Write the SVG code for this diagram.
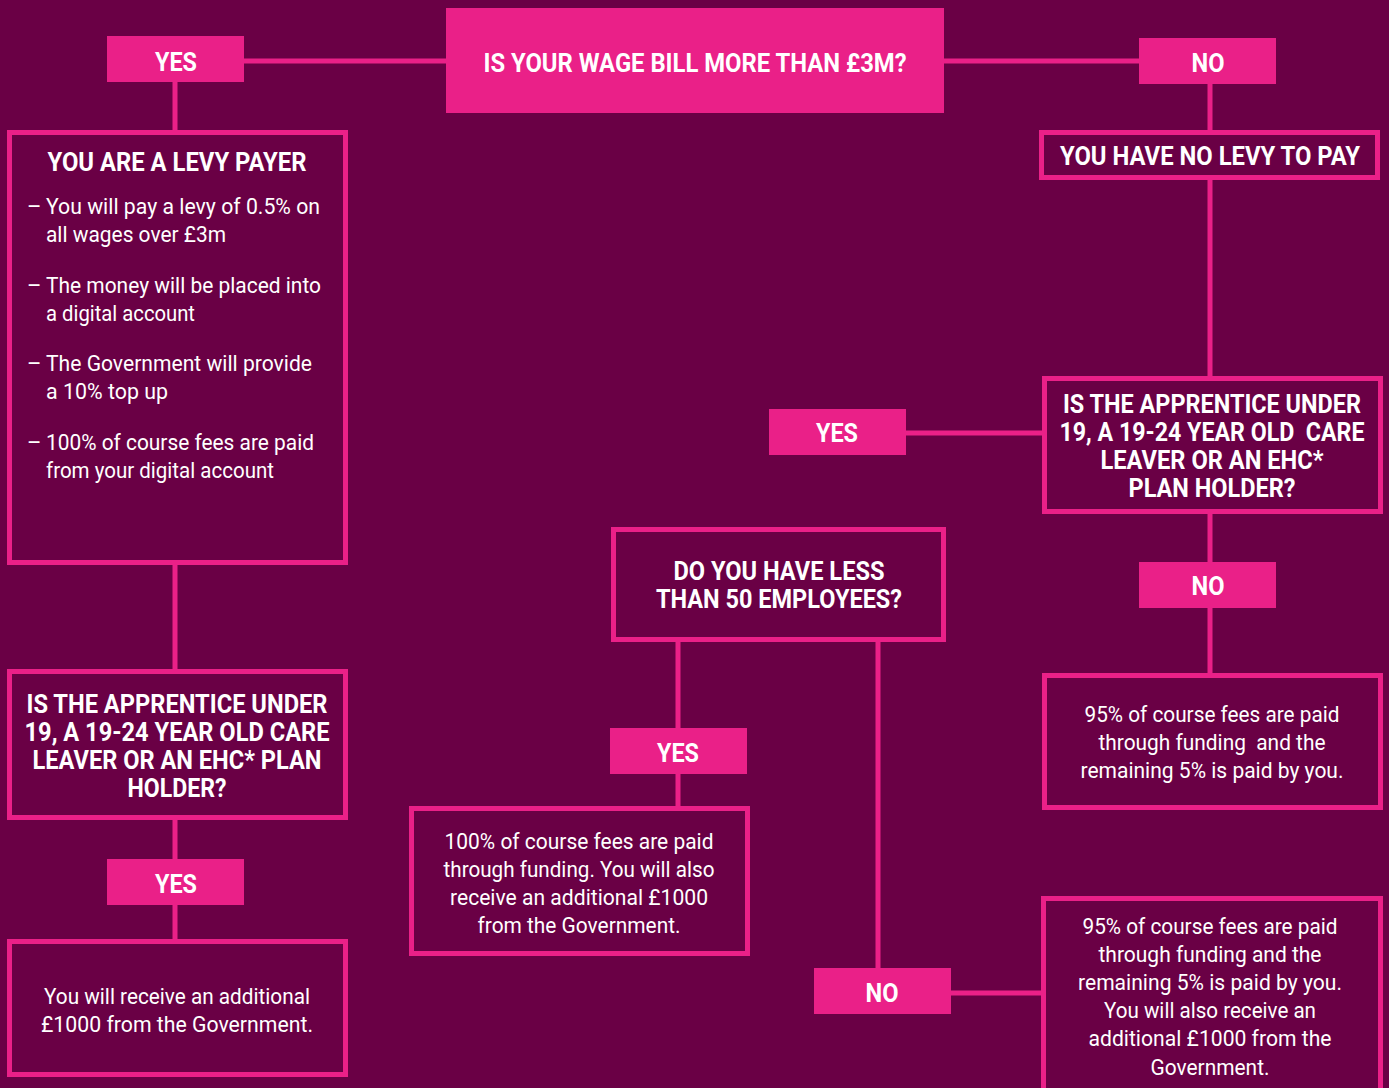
<svg xmlns="http://www.w3.org/2000/svg" width="1389" height="1088" viewBox="0 0 1389 1088">
<style>
.bg{fill:#6a0045}
.lbl{fill:#ea2088}
.box{fill:#6a0045;stroke:#ea2088;stroke-width:5}
.c{stroke:#ea2088;stroke-width:5;fill:none}
.b{font-family:"Liberation Sans Narrow","Roboto","Liberation Sans",sans-serif;font-weight:bold;font-size:26px;fill:#ffffff}
.r{font-family:"Liberation Sans Narrow","Roboto","Liberation Sans",sans-serif;font-size:22px;fill:#ffffff}
.m{text-anchor:middle}
</style>
<rect class="bg" x="0" y="0" width="1389" height="1088"/>
<g id="connectors">
<line class="c" x1="244" y1="61" x2="446" y2="61"/>
<line class="c" x1="944" y1="61" x2="1139" y2="61"/>
<line class="c" x1="175" y1="82" x2="175" y2="130"/>
<line class="c" x1="1210" y1="84" x2="1210" y2="130"/>
<line class="c" x1="1210" y1="180" x2="1210" y2="376"/>
<line class="c" x1="906" y1="433" x2="1042" y2="433"/>
<line class="c" x1="1210" y1="514" x2="1210" y2="562"/>
<line class="c" x1="1210" y1="608" x2="1210" y2="673"/>
<line class="c" x1="175" y1="565" x2="175" y2="669"/>
<line class="c" x1="175" y1="820" x2="175" y2="859"/>
<line class="c" x1="175" y1="905" x2="175" y2="939"/>
<line class="c" x1="678" y1="642" x2="678" y2="728"/>
<line class="c" x1="678" y1="774" x2="678" y2="806"/>
<line class="c" x1="878" y1="642" x2="878" y2="968"/>
<line class="c" x1="951" y1="993" x2="1041" y2="993"/>
</g>
<g id="q-wage">
<rect class="lbl" x="446" y="8" width="498" height="105"/>
<text class="b m" x="695" y="72" textLength="423" lengthAdjust="spacingAndGlyphs">IS YOUR WAGE BILL MORE THAN £3M?</text>
</g>
<g id="yes-top">
<rect class="lbl" x="107" y="36" width="137" height="46"/>
<text class="b m" x="176" y="71" textLength="42" lengthAdjust="spacingAndGlyphs">YES</text>
</g>
<g id="no-top">
<rect class="lbl" x="1139" y="38" width="137" height="46"/>
<text class="b m" x="1208" y="72" textLength="33" lengthAdjust="spacingAndGlyphs">NO</text>
</g>
<g id="levy-payer">
<rect class="box" x="9.5" y="132.5" width="336" height="430"/>
<text class="b m" x="177" y="171" textLength="259" lengthAdjust="spacingAndGlyphs">YOU ARE A LEVY PAYER</text>
<text class="r" x="27" y="214">–</text>
<text class="r" x="46" y="214" textLength="274" lengthAdjust="spacingAndGlyphs">You will pay a levy of 0.5% on</text>
<text class="r" x="46" y="242" textLength="180" lengthAdjust="spacingAndGlyphs">all wages over £3m</text>
<text class="r" x="27" y="293">–</text>
<text class="r" x="46" y="293" textLength="275" lengthAdjust="spacingAndGlyphs">The money will be placed into</text>
<text class="r" x="46" y="321" textLength="149" lengthAdjust="spacingAndGlyphs">a digital account</text>
<text class="r" x="27" y="371">–</text>
<text class="r" x="46" y="371" textLength="266" lengthAdjust="spacingAndGlyphs">The Government will provide</text>
<text class="r" x="46" y="399" textLength="122" lengthAdjust="spacingAndGlyphs">a 10% top up</text>
<text class="r" x="27" y="450">–</text>
<text class="r" x="46" y="450" textLength="268" lengthAdjust="spacingAndGlyphs">100% of course fees are paid</text>
<text class="r" x="46" y="478" textLength="228" lengthAdjust="spacingAndGlyphs">from your digital account</text>
</g>
<g id="no-levy">
<rect class="box" x="1041.5" y="132.5" width="336" height="45"/>
<text class="b m" x="1210" y="165" textLength="300" lengthAdjust="spacingAndGlyphs">YOU HAVE NO LEVY TO PAY</text>
</g>
<g id="q-apprentice-right">
<rect class="box" x="1044.5" y="378.5" width="336" height="133"/>
<text class="b m" x="1212" y="413" textLength="298" lengthAdjust="spacingAndGlyphs">IS THE APPRENTICE UNDER</text>
<text class="b m" x="1212" y="441" textLength="305" lengthAdjust="spacingAndGlyphs" xml:space="preserve">19, A 19-24 YEAR OLD  CARE</text>
<text class="b m" x="1212" y="469" textLength="223" lengthAdjust="spacingAndGlyphs">LEAVER OR AN EHC*</text>
<text class="b m" x="1212" y="497" textLength="167" lengthAdjust="spacingAndGlyphs">PLAN HOLDER?</text>
</g>
<g id="yes-right">
<rect class="lbl" x="769" y="409" width="137" height="46"/>
<text class="b m" x="837" y="442" textLength="42" lengthAdjust="spacingAndGlyphs">YES</text>
</g>
<g id="no-right">
<rect class="lbl" x="1139" y="562" width="137" height="46"/>
<text class="b m" x="1208" y="595" textLength="33" lengthAdjust="spacingAndGlyphs">NO</text>
</g>
<g id="res-95">
<rect class="box" x="1044.5" y="675.5" width="336" height="132"/>
<text class="r m" x="1212" y="722" textLength="255" lengthAdjust="spacingAndGlyphs">95% of course fees are paid</text>
<text class="r m" x="1212" y="750" textLength="227" lengthAdjust="spacingAndGlyphs" xml:space="preserve">through funding  and the</text>
<text class="r m" x="1212" y="778" textLength="263" lengthAdjust="spacingAndGlyphs">remaining 5% is paid by you.</text>
</g>
<g id="q-employees">
<rect class="box" x="613.5" y="529.5" width="330" height="110"/>
<text class="b m" x="779" y="580" textLength="211" lengthAdjust="spacingAndGlyphs">DO YOU HAVE LESS</text>
<text class="b m" x="779" y="608" textLength="246" lengthAdjust="spacingAndGlyphs">THAN 50 EMPLOYEES?</text>
</g>
<g id="yes-mid">
<rect class="lbl" x="610" y="728" width="137" height="46"/>
<text class="b m" x="678" y="762" textLength="42" lengthAdjust="spacingAndGlyphs">YES</text>
</g>
<g id="res-100">
<rect class="box" x="411.5" y="808.5" width="336" height="145"/>
<text class="r m" x="579" y="849" textLength="269" lengthAdjust="spacingAndGlyphs">100% of course fees are paid</text>
<text class="r m" x="579" y="877" textLength="271" lengthAdjust="spacingAndGlyphs">through funding. You will also</text>
<text class="r m" x="579" y="905" textLength="258" lengthAdjust="spacingAndGlyphs">receive an additional £1000</text>
<text class="r m" x="579" y="933" textLength="203" lengthAdjust="spacingAndGlyphs">from the Government.</text>
</g>
<g id="no-mid">
<rect class="lbl" x="814" y="968" width="137" height="46"/>
<text class="b m" x="882" y="1002" textLength="33" lengthAdjust="spacingAndGlyphs">NO</text>
</g>
<g id="res-95-1000">
<rect class="box" x="1043.5" y="898.5" width="337" height="200"/>
<text class="r m" x="1210" y="934" textLength="255" lengthAdjust="spacingAndGlyphs">95% of course fees are paid</text>
<text class="r m" x="1210" y="962" textLength="223" lengthAdjust="spacingAndGlyphs">through funding and the</text>
<text class="r m" x="1210" y="990" textLength="264" lengthAdjust="spacingAndGlyphs">remaining 5% is paid by you.</text>
<text class="r m" x="1210" y="1018" textLength="212" lengthAdjust="spacingAndGlyphs">You will also receive an</text>
<text class="r m" x="1210" y="1046" textLength="243" lengthAdjust="spacingAndGlyphs">additional £1000 from the</text>
<text class="r m" x="1210" y="1075" textLength="119" lengthAdjust="spacingAndGlyphs">Government.</text>
</g>
<g id="q-apprentice-left">
<rect class="box" x="9.5" y="671.5" width="336" height="146"/>
<text class="b m" x="177" y="713" textLength="301" lengthAdjust="spacingAndGlyphs">IS THE APPRENTICE UNDER</text>
<text class="b m" x="177" y="741" textLength="305" lengthAdjust="spacingAndGlyphs">19, A 19-24 YEAR OLD CARE</text>
<text class="b m" x="177" y="769" textLength="289" lengthAdjust="spacingAndGlyphs">LEAVER OR AN EHC* PLAN</text>
<text class="b m" x="177" y="797" textLength="99" lengthAdjust="spacingAndGlyphs">HOLDER?</text>
</g>
<g id="yes-left">
<rect class="lbl" x="107" y="859" width="137" height="46"/>
<text class="b m" x="176" y="893" textLength="42" lengthAdjust="spacingAndGlyphs">YES</text>
</g>
<g id="res-1000">
<rect class="box" x="9.5" y="941.5" width="336" height="133"/>
<text class="r m" x="177" y="1004" textLength="266" lengthAdjust="spacingAndGlyphs">You will receive an additional</text>
<text class="r m" x="177" y="1032" textLength="272" lengthAdjust="spacingAndGlyphs">£1000 from the Government.</text>
</g>
</svg>
